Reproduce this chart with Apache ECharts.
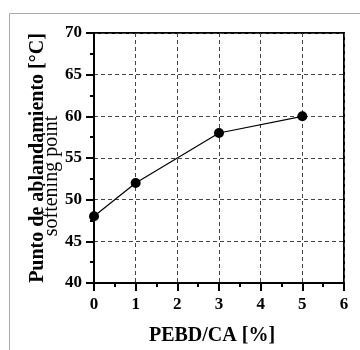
<!DOCTYPE html>
<html><head><meta charset="utf-8">
<script src="https://cdn.jsdelivr.net/npm/echarts@6/dist/echarts.min.js"></script>
<style>html,body{margin:0;padding:0;background:#fff}#c{width:360px;height:350px}</style>
</head><body><div id="c"></div>
<script>
var xValues = [0, 1, 3, 5];
var yValues = [48, 52, 58, 60];
var xTitle = 'PEBD/CA [%]';
var yTitle1 = 'Punto de ablandamiento [°C]';
var yTitle2 = 'softening point';

var chart = echarts.init(document.getElementById('c'), null, {renderer: 'canvas'});
var font = '"Liberation Serif", "Times New Roman", serif';
var data = xValues.map(function (x, i) { return [x, yValues[i]]; });
chart.setOption({
  animation: false,
  grid: {left: 94, top: 33, width: 250, height: 250, show: true, borderColor: '#000', borderWidth: 2, backgroundColor: 'transparent'},
  xAxis: {
    type: 'value', min: 0, max: 6, interval: 1,
    axisLine: {show: true, onZero: false, lineStyle: {color: '#000', width: 2}},
    axisTick: {show: true, inside: false, length: 8, lineStyle: {color: '#000', width: 2}},
    minorTick: {show: true, splitNumber: 2, length: 4, lineStyle: {color: '#000', width: 2}},
    axisLabel: {fontFamily: font, fontWeight: 'bold', fontSize: 17, color: '#000', margin: 13},
    splitLine: {show: true, lineStyle: {color: '#444', type: [4, 3], width: 1}}
  },
  yAxis: {
    type: 'value', min: 40, max: 70, interval: 5,
    axisLine: {show: true, onZero: false, lineStyle: {color: '#000', width: 2}},
    axisTick: {show: true, inside: false, length: 8, lineStyle: {color: '#000', width: 2}},
    minorTick: {show: true, splitNumber: 2, length: 4, lineStyle: {color: '#000', width: 2}},
    axisLabel: {fontFamily: font, fontWeight: 'bold', fontSize: 17, color: '#000', margin: 12},
    splitLine: {show: true, lineStyle: {color: '#444', type: [4, 3], width: 1}}
  },
  series: [{
    type: 'line', data: data,
    symbol: 'circle', symbolSize: 10,
    itemStyle: {color: '#000'},
    lineStyle: {color: '#000', width: 1.2}
  }],
  graphic: [
    {type: 'rect', left: 7, top: 11, shape: {width: 400, height: 400}, style: {fill: 'none', stroke: '#aaa', lineWidth: 1}, silent: true},
    {type: 'text', x: 212, y: 336,
     style: {text: xTitle, font: 'bold 20px ' + font, fill: '#000', textAlign: 'center', textVerticalAlign: 'middle'}},
    {type: 'text', x: 38, y: 158, rotation: Math.PI / 2,
     style: {text: yTitle1, font: 'bold 20px ' + font, fill: '#000', textAlign: 'center', textVerticalAlign: 'middle'}},
    {type: 'text', x: 52, y: 176, rotation: Math.PI / 2,
     style: {text: yTitle2, font: '20px ' + font, fill: '#000', textAlign: 'center', textVerticalAlign: 'middle'}}
  ]
});
</script></body></html>
